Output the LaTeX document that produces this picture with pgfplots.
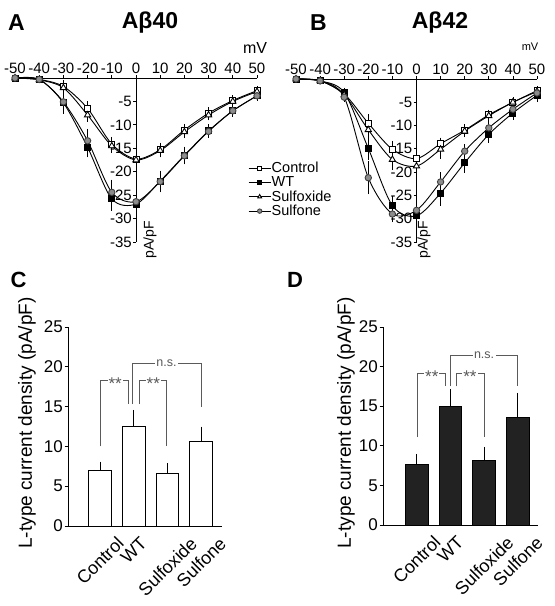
\documentclass[border=0pt]{standalone}
\usepackage{fontspec}
\setmainfont{Liberation Sans}
\usepackage{graphicx}
\usepackage{pgfplots}
\pgfplotsset{compat=1.18}
\definecolor{sulfgray}{HTML}{8C8C8C}
\definecolor{brk}{HTML}{5A5A5A}
\definecolor{darkbar}{HTML}{222222}
\newcommand{\fs}[1]{\fontsize{#1bp}{#1bp}\selectfont}
\tikzset{brstyle/.style={brk, line width=0.8bp}}

\pgfplotsset{
  ivstyle/.style={
    scale only axis, clip=false,
    xmin=-50, xmax=50, ymin=-35, ymax=0,
    axis x line=top, axis y line=middle,
    axis line style={-, line width=0.8bp},
    xtick={-50,-40,...,50},
    ytick={-35,-30,...,-5},
    hide obscured x ticks=false, hide obscured y ticks=false,
    tick align=outside, major tick length=3bp,
    tick style={black, line width=0.8bp},
    /pgf/number format/assume math mode=true,
    ticklabel style={font=\fs{15}},
    xticklabel style={inner sep=1bp},
    yticklabel style={inner sep=1bp},
  },
  ctrl/.style={black, line width=0.9bp, smooth, mark=square*, mark size=3bp, mark options={fill=white, draw=black, solid},
    error bars/.cd, y dir=both, y explicit, error bar style={line width=0.8bp, black}, error mark options={mark size=2.5bp, line width=0.8bp, black}},
  wt/.style={black, line width=0.9bp, smooth, mark=square*, mark size=3bp, mark options={fill=black, draw=black, solid},
    error bars/.cd, y dir=both, y explicit, error bar style={line width=0.8bp, black}, error mark options={mark size=2.5bp, line width=0.8bp, black}},
  sox/.style={black, line width=0.9bp, smooth, mark=triangle*, mark size=3.6bp, mark options={fill=white, draw=black, solid},
    error bars/.cd, y dir=both, y explicit, error bar style={line width=0.8bp, black}, error mark options={mark size=2.5bp, line width=0.8bp, black}},
  sone/.style={black, line width=0.9bp, smooth, mark=*, mark size=3.2bp, mark options={fill=sulfgray, draw=black!75, solid},
    error bars/.cd, y dir=both, y explicit, error bar style={line width=0.8bp, black}, error mark options={mark size=2.5bp, line width=0.8bp, black}},
  barstyle/.style={
    scale only axis, clip=false,
    ymin=0, ymax=25, ytick={0,5,...,25},
    axis x line=bottom, axis y line=left,
    axis line style={-, line width=0.9bp},
    xtick={1,2,3,4},
    xticklabels={\rotatebox{45}{Control},\rotatebox{45}{WT},\rotatebox{45}{Sulfoxide},\rotatebox{45}{Sulfone}},
    x tick label style={anchor=north, inner sep=0bp, yshift=-6bp, font=\fs{18}},
    major x tick style={draw=none},
    tick align=outside, major tick length=3.5bp,
    ytick style={line width=0.9bp, black},
    /pgf/number format/assume math mode=true,
    y tick label style={font=\fs{17}, inner sep=1.5bp},
    ybar, bar width=0.67,
  },
}

\begin{document}
\begin{tikzpicture}
% ---------------- Panel A ----------------
\begin{axis}[ivstyle, at={(15bp,-78bp)}, anchor=north west, width=242bp, height=164bp,
  legend style={at={(rel axis cs:0.963,0.49)}, anchor=north west, draw=none, fill=none,
    font=\fs{14.5}, inner sep=0pt, row sep=1.2bp, nodes={inner sep=0.6bp}},
  legend cell align=left,
  legend image code/.code={\draw[mark repeat=2,mark phase=2,#1,mark size=2.2bp] plot coordinates {(0bp,0bp) (11bp,0bp) (22bp,0bp)};},
]
\addplot[ctrl] coordinates {(-50,0)+-(0,0) (-40,-0.3)+-(0,0.2) (-30,-1.8)+-(0,0.8) (-20,-6.5)+-(0,1.0) (-10,-14.1)+-(0,1.0) (0,-17.3)+-(0,1.0) (10,-15.3)+-(0,1.0) (20,-11.1)+-(0,0.8) (30,-7.5)+-(0,0.7) (40,-4.8)+-(0,0.6) (50,-2.7)+-(0,0.5)};
\addlegendentry{Control}
\addplot[wt] coordinates {(-50,0)+-(0,0) (-40,-0.3)+-(0,0.2) (-30,-5.3)+-(0,0.8) (-20,-14.8)+-(0,1.6) (-10,-25.8)+-(0,2.0) (0,-26.9)+-(0,1.2) (10,-22.0)+-(0,1.5) (20,-16.5)+-(0,1.3) (30,-11.3)+-(0,0.9) (40,-7.0)+-(0,0.7) (50,-3.8)+-(0,0.5)};
\addlegendentry{WT}
\addplot[sox] coordinates {(-50,0)+-(0,0) (-40,-0.4)+-(0,0.2) (-30,-2.1)+-(0,0.8) (-20,-7.9)+-(0,0.9) (-10,-14.5)+-(0,1.0) (0,-17.5)+-(0,1.0) (10,-15.5)+-(0,0.9) (20,-11.5)+-(0,0.8) (30,-7.9)+-(0,0.6) (40,-5.0)+-(0,0.5) (50,-2.9)+-(0,0.4)};
\addlegendentry{Sulfoxide}
\addplot[sone] coordinates {(-50,0)+-(0,0) (-40,-0.3)+-(0,0.2) (-30,-5.1)+-(0,2.0) (-20,-13.4)+-(0,2.0) (-10,-24.4)+-(0,2.2) (0,-26.4)+-(0,1.0) (10,-22.1)+-(0,1.8) (20,-16.6)+-(0,1.3) (30,-11.4)+-(0,0.8) (40,-7.0)+-(0,0.6) (50,-3.8)+-(0,0.5)};
\addlegendentry{Sulfone}
\end{axis}

% ---------------- Panel B ----------------
\begin{axis}[ivstyle, at={(296bp,-79bp)}, anchor=north west, width=241bp, height=163bp]
\addplot[ctrl] coordinates {(-50,0)+-(0,0) (-40,-0.4)+-(0,0.2) (-30,-3.2)+-(0,0.5) (-20,-9.5)+-(0,1.4) (-10,-15.1)+-(0,1.3) (0,-17.1)+-(0,1.0) (10,-13.9)+-(0,0.8) (20,-11.0)+-(0,0.7) (30,-7.7)+-(0,0.6) (40,-5.0)+-(0,0.5) (50,-2.5)+-(0,0.4)};
\addplot[wt] coordinates {(-50,0)+-(0,0) (-40,-0.4)+-(0,0.2) (-30,-2.9)+-(0,0.5) (-20,-14.9)+-(0,2.0) (-10,-27.2)+-(0,1.5) (0,-29.4)+-(0,1.2) (10,-24.5)+-(0,2.2) (20,-18.0)+-(0,1.6) (30,-11.9)+-(0,1.2) (40,-7.3)+-(0,0.9) (50,-3.5)+-(0,0.8)};
\addplot[sox] coordinates {(-50,0)+-(0,0) (-40,-0.4)+-(0,0.2) (-30,-3.4)+-(0,0.5) (-20,-10.9)+-(0,1.5) (-10,-17.3)+-(0,1.6) (0,-18.7)+-(0,1.3) (10,-15.1)+-(0,1.5) (20,-11.2)+-(0,0.8) (30,-7.9)+-(0,0.6) (40,-5.0)+-(0,0.5) (50,-2.7)+-(0,0.4)};
\addplot[sone] coordinates {(-50,0)+-(0,0) (-40,-0.4)+-(0,0.2) (-30,-3.9)+-(0,0.5) (-20,-21.2)+-(0,3.0) (-10,-29.0)+-(0,1.2) (0,-28.2)+-(0,1.5) (10,-22.1)+-(0,1.5) (20,-15.5)+-(0,1.0) (30,-10.5)+-(0,0.9) (40,-6.5)+-(0,0.7) (50,-3.0)+-(0,0.6)};
\end{axis}

% ---------------- Panel C ----------------
\begin{axis}[barstyle, at={(68bp,-327bp)}, anchor=north west, width=154bp, height=199bp,
  xmin=0.05, xmax=4.62]
\addplot[draw=black, fill=white, line width=0.9bp,
  error bars/.cd, y dir=plus, y explicit, error bar style={line width=0.9bp, black}, error mark options={mark size=3bp, line width=0.9bp, black}]
  coordinates {(1,7.0)+-(0,0.7) (2,12.5)+-(0,1.7) (3,6.6)+-(0,0.9) (4,10.6)+-(0,1.5)};
\draw[brstyle] (axis cs:1.0,10.0) -- (axis cs:1.0,18.3) -- (axis cs:1.84,18.3) -- (axis cs:1.84,15.3);
\draw[brstyle] (axis cs:2.17,15.3) -- (axis cs:2.17,18.3) -- (axis cs:2.98,18.3) -- (axis cs:2.98,10.0);
\draw[brstyle] (axis cs:1.97,15.3) -- (axis cs:1.97,20.4) -- (axis cs:4.0,20.4) -- (axis cs:4.0,15.0);
\node[fill=white, inner sep=1bp, text=brk, font=\fs{17}, yshift=-3.5bp] at (axis cs:1.45,18.3) {**};
\node[fill=white, inner sep=1bp, text=brk, font=\fs{17}, yshift=-3.5bp] at (axis cs:2.58,18.3) {**};
\node[fill=white, inner sep=1.5bp, text=brk, font=\fs{12.5}] at (axis cs:2.97,20.4) {n.s.};
\end{axis}

% ---------------- Panel D ----------------
\begin{axis}[barstyle, at={(383bp,-327bp)}, anchor=north west, width=155bp, height=198bp,
  xmin=0.0, xmax=4.6]
\addplot[draw=black, fill=darkbar, line width=0.9bp,
  error bars/.cd, y dir=plus, y explicit, error bar style={line width=0.9bp, black}, error mark options={mark size=3bp, line width=0.9bp, black}]
  coordinates {(1,7.6)+-(0,1.0) (2,15.0)+-(0,1.8) (3,8.2)+-(0,1.3) (4,13.6)+-(0,2.7)};
\draw[brstyle] (axis cs:1.03,11.1) -- (axis cs:1.03,19.2) -- (axis cs:1.86,19.2) -- (axis cs:1.86,17.5);
\draw[brstyle] (axis cs:2.19,17.5) -- (axis cs:2.19,19.2) -- (axis cs:3.0,19.2) -- (axis cs:3.0,11.1);
\draw[brstyle] (axis cs:1.99,17.5) -- (axis cs:1.99,21.4) -- (axis cs:3.99,21.4) -- (axis cs:3.99,17.5);
\node[fill=white, inner sep=1bp, text=brk, font=\fs{17}, yshift=-3.5bp] at (axis cs:1.45,19.2) {**};
\node[fill=white, inner sep=1bp, text=brk, font=\fs{17}, yshift=-3.5bp] at (axis cs:2.58,19.2) {**};
\node[fill=white, inner sep=1.5bp, text=brk, font=\fs{12.5}] at (axis cs:3.0,21.4) {n.s.};
\end{axis}

% ---------------- Texts ----------------
\node[font=\bfseries\fs{23}] at (16.5bp,-22.5bp) {A};
\node[font=\bfseries\fs{23}] at (150bp,-22.5bp) {Aβ40};
\node[font=\bfseries\fs{23}] at (318.5bp,-22.5bp) {B};
\node[font=\bfseries\fs{23}] at (440bp,-22.5bp) {Aβ42};
\node[font=\bfseries\fs{22}] at (18.5bp,-280bp) {C};
\node[font=\bfseries\fs{22}] at (295bp,-280bp) {D};
\node[font=\fs{16}] at (255bp,-47.5bp) {mV};
\node[font=\fs{11}] at (530bp,-47bp) {mV};
\node[font=\fs{14}, rotate=90] at (150bp,-240bp) {pA/pF};
\node[font=\fs{14}, rotate=90] at (424bp,-240bp) {pA/pF};
\node[font=\fs{19}, rotate=90] at (27bp,-423bp) {L-type current density (pA/pF)};
\node[font=\fs{19}, rotate=90] at (346bp,-423bp) {L-type current density (pA/pF)};

\pgfresetboundingbox
\path[use as bounding box] (0,0) rectangle (555bp,-606bp);
\end{tikzpicture}
\end{document}
